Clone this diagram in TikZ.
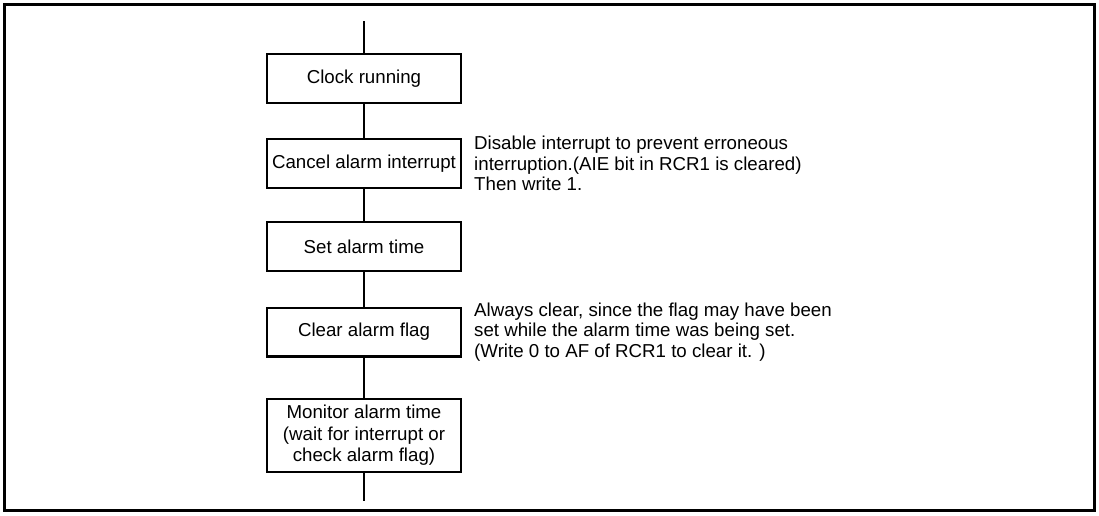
\documentclass[tikz,border=0pt]{standalone}
\usepackage{fontspec}
\setmainfont{Liberation Sans}
\begin{document}
\begin{tikzpicture}[x=1pt,y=-1pt,
  stepbox/.style={draw, line width=2.4pt, minimum width=193.6pt, minimum height=48.6pt, align=center, inner sep=0pt, font=\fontsize{18.7}{21.5}\selectfont},
  note/.style={anchor=west, align=left, inner sep=0pt, font=\fontsize{18.7}{20.5}\selectfont},
  conn/.style={line width=1.1pt},
  frame/.style={line width=3pt}]
\useasboundingbox (0,0) rectangle (1099,515);
\draw[frame] (4.5,4.5) rectangle (1094.5,510.5);
\coordinate (top) at (364,21);
\coordinate (bot) at (364,501);
\node[stepbox] (clock) at (364,78.5) {Clock running};
\node[stepbox] (cancel) at (364,163.5) {Cancel alarm interrupt};
\node[stepbox] (set) at (364,246.5) {Set alarm time};
\node[stepbox] (clear) at (364,332) {Clear alarm flag};
\node[stepbox, minimum height=72.6pt] (monitor) at (364,435.5) {Monitor alarm time\\(wait for interrupt or\\check alarm flag)};
\draw[conn] (top) -- (clock);
\draw[conn] (clock) -- (cancel);
\draw[conn] (cancel) -- (set);
\draw[conn] (set) -- (clear);
\draw[conn] (clear) -- (monitor);
\draw[conn] (monitor) -- (bot);
\node[note] (n1) at ([xshift=12pt]cancel.east) {Disable interrupt to prevent erroneous\\interruption.(AIE bit in RCR1 is cleared)\\Then write 1.};
\node[note] (n2) at ([xshift=12pt]clear.east) {Always clear, since the flag may have been\\set while the alarm time was being set.\\(Write 0 to AF of RCR1 to clear it. )};
\end{tikzpicture}
\end{document}
